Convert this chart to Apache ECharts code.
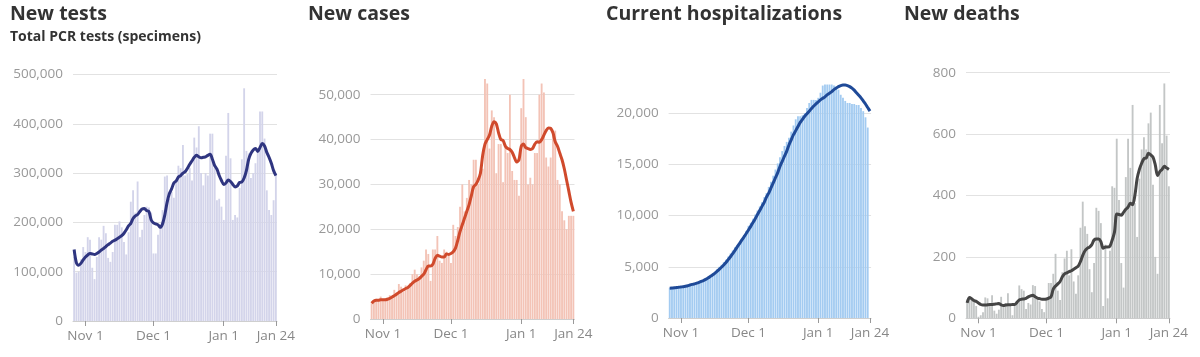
<!DOCTYPE html>
<html>
<head>
<meta charset="utf-8">
<script src="https://cdn.jsdelivr.net/npm/echarts@6/dist/echarts.min.js"></script>
<style>
html,body{margin:0;padding:0;background:#fff;}
#chart{width:1200px;height:357px;}
</style>
</head>
<body>
<div id="chart"></div>
<script>
// ---- categories: daily dates Oct 27 .. Jan 24 ----
const months = ['Oct','Nov','Dec','Jan'];
const monthDays = [[27,31],[1,30],[1,31],[1,24]];
const dates = [];
monthDays.forEach(function(r, mi){ for (let d = r[0]; d <= r[1]; d++) dates.push(months[mi] + ' ' + d); });
const tickLabels = ['Nov 1','Dec 1','Jan 1','Jan 24'];

// ---- New tests ----
const testsDaily = [130000,98000,100000,125000,150000,
140000,170000,165000,108000,85000,130000,170000,165000,193000,178000,128000,120000,140000,195000,195000,202000,190000,160000,135000,180000,242000,265000,220000,283000,170000,185000,215000,232000,230000,220000,
137000,137000,175000,190000,225000,293000,295000,248000,262000,250000,280000,315000,310000,357000,295000,298000,310000,285000,372000,352000,395000,300000,275000,300000,295000,380000,380000,310000,245000,248000,232000,
205000,335000,422000,330000,205000,215000,210000,270000,328000,472000,345000,340000,290000,300000,320000,343000,425000,425000,370000,265000,225000,215000,245000,300000];
const testsAvg = [145000,118000,113000,117000,124000,
130000,134000,137000,136000,135000,137000,140000,144000,147000,151000,155000,158000,162000,164000,167000,170000,173000,178000,185000,193000,198000,208000,213000,216000,222000,227000,228000,224000,222000,205000,
199000,197000,195000,190000,197000,215000,240000,258000,268000,280000,284000,292000,295000,300000,303000,310000,318000,325000,332000,336000,333000,331000,332000,333000,336000,338000,328000,315000,308000,295000,285000,
277000,280000,286000,283000,277000,272000,274000,281000,282000,290000,305000,328000,340000,347000,350000,344000,352000,360000,355000,342000,332000,320000,305000,295000];

// ---- New cases ----
const casesDaily = [3500,4200,4500,4300,5000,
4400,4500,4800,5300,5000,6500,6000,7800,7200,6000,7500,7000,8000,10000,11000,10000,9500,11500,13000,15500,14500,8500,15500,15500,18500,13000,12500,15500,15000,14500,
12500,21000,18500,20500,25000,30000,24000,27000,31000,30000,35500,35500,30000,33000,33500,53500,52500,38000,46500,45000,32500,39000,39000,30500,39000,37000,50000,33000,31000,31000,27500,
47000,53500,45000,30000,31500,30000,37000,37000,50000,52500,50500,36000,34000,36000,42000,42000,31000,30000,24000,22000,20000,23000,23000,23000];
const casesAvg = [3500,4000,4200,4200,4300,
4300,4300,4400,4600,4900,5200,5500,5900,6200,6500,6800,7000,7500,8000,8400,8700,9000,9500,10000,11000,11800,11800,12200,13500,14200,14000,13800,13800,14500,14400,
14600,15000,15800,17500,19500,21000,22500,24000,25500,27500,29500,30000,31000,32500,36500,39000,40000,41000,43000,44000,43500,41500,40000,39800,38500,38000,37800,37200,36000,35000,35500,
38500,39000,38200,38000,37800,38000,39000,39500,39400,40000,41000,42000,42600,42500,41500,39500,38500,37000,35500,33500,31000,28500,26000,24000];

// ---- Current hospitalizations ----
const hospDaily = [2950,2970,3000,3000,3020,
3050,3100,3120,3200,3250,3300,3350,3450,3500,3600,3700,3800,3950,4100,4300,4500,4750,5000,5200,5450,5700,6000,6300,6600,6900,7100,7400,7700,8100,8500,
9000,9300,9700,10100,10500,10900,11300,11800,12200,12800,13300,13900,14500,15100,15700,16300,16800,17200,17600,18200,18800,19400,19700,19700,19800,20000,20500,21000,21300,21300,21300,
21500,22000,22700,22800,22800,22800,22800,22700,22600,22300,21800,21500,21200,21000,21000,20900,20900,20800,20800,20500,20200,19600,18600];
const hospAvg = [2900,2920,2950,2970,3000,
3030,3060,3100,3150,3220,3280,3330,3400,3480,3570,3660,3770,3900,4050,4200,4360,4550,4750,4960,5180,5420,5700,5980,6280,6600,6950,7270,7600,7920,8250,
8600,8950,9320,9700,10100,10500,10900,11300,11800,12200,12700,13200,13700,14200,14800,15300,15800,16300,16900,17400,17900,18300,18700,19100,19400,19700,19950,20200,20450,20700,20900,
21100,21300,21450,21600,21800,21950,22100,22300,22450,22600,22700,22750,22750,22700,22600,22450,22250,22000,21750,21500,21200,20900,20550,20200];

// ---- New deaths ----
const deathsDaily = [55,70,60,55,40,
5,10,20,68,65,45,75,25,15,28,70,40,50,82,40,10,40,55,107,95,90,30,50,45,108,105,68,55,30,20,
65,115,115,145,210,90,60,150,195,220,140,225,120,80,140,295,380,300,275,160,85,180,360,350,310,40,240,65,220,430,425,
585,385,180,100,460,585,490,695,375,265,455,550,590,550,635,670,435,200,145,695,570,765,595,430];
const deathsAvg = [50,68,64,58,55,
50,45,43,43,44,45,45,46,47,48,44,42,43,44,44,45,45,52,60,62,63,65,70,73,75,70,66,64,62,62,
63,66,70,95,105,112,120,135,145,148,152,155,160,165,170,185,205,220,228,232,240,255,258,258,250,228,232,232,235,255,280,
340,338,336,345,355,362,375,370,400,455,485,505,520,522,538,532,525,500,465,478,485,495,490,485];

const panels = [
  {title:'New tests', sub:'Total PCR tests (specimens)', daily:testsDaily, avg:testsAvg, bar:'#d3d4ea', line:'#2f3580',
   left:73, width:204, top:74.5, bottom:321, max:500000, interval:100000, hideMax:false},
  {title:'New cases', sub:'', daily:casesDaily, avg:casesAvg, bar:'#f3c3b6', line:'#d04a2c',
   left:370.5, width:204, top:72.3, bottom:319, max:55000, interval:10000, hideMax:true},
  {title:'Current hospitalizations', sub:'', daily:hospDaily, avg:hospAvg, bar:'#a3cbf1', line:'#1f4a98',
   left:668.6, width:202.5, top:62, bottom:318, max:25000, interval:5000, hideMax:true},
  {title:'New deaths', sub:'', daily:deathsDaily, avg:deathsAvg, bar:'#c3c6c6', line:'#454545',
   left:966, width:204, top:72.7, bottom:318.3, max:800, interval:200, hideMax:false}
];
const titleLefts = [10, 308, 606, 904];

function fmt(v){ return String(v).replace(/\B(?=(\d{3})+(?!\d))/g, ','); }
function isTick(i, v){ return tickLabels.indexOf(v) >= 0; }

const FONT = '"Open Sans", "Noto Sans", sans-serif';
const option = {animation:false, title:[], grid:[], xAxis:[], yAxis:[], series:[]};
panels.forEach(function(p, k){
  option.title.push({text:p.title, left:titleLefts[k], top:4, padding:0,
    textStyle:{fontFamily:FONT, fontWeight:'bold', fontSize:19.5, color:'#333'}});
  if (p.sub) option.title.push({text:p.sub, left:titleLefts[k], top:30, padding:0,
    textStyle:{fontFamily:FONT, fontWeight:'bold', fontSize:14, color:'#333'}});
  option.grid.push({left:p.left, width:p.width, top:p.top, height:p.bottom - p.top, containLabel:false});
  option.xAxis.push({type:'category', gridIndex:k, data:dates, boundaryGap:true,
    axisLine:{show:true, lineStyle:{color:'#cfcfcf', width:1}},
    axisTick:{show:true, interval:isTick, alignWithLabel:true, length:5, lineStyle:{color:'#999'}},
    axisLabel:{interval:isTick, color:'#888', fontFamily:FONT, fontSize:13.5, margin:8},
    splitLine:{show:false}});
  option.yAxis.push({type:'value', gridIndex:k, min:0, max:p.max, interval:p.interval,
    axisLine:{show:false}, axisTick:{show:false},
    axisLabel:{color:'#999', fontFamily:FONT, fontSize:13.5, margin:10, formatter:fmt, showMaxLabel:!p.hideMax},
    splitLine:{show:true, showMaxLine:!p.hideMax, lineStyle:{color:'#e2e2e2', width:1}}});
  option.series.push({type:'bar', xAxisIndex:k, yAxisIndex:k, data:p.daily, barCategoryGap:'18%',
    itemStyle:{color:p.bar}, silent:true});
  option.series.push({type:'line', xAxisIndex:k, yAxisIndex:k, data:p.avg, showSymbol:false, smooth:0.3,
    lineStyle:{color:p.line, width:3}, z:5, silent:true});
});

const chart = echarts.init(document.getElementById('chart'), null, {renderer:'canvas'});
chart.setOption(option);
</script>
</body>
</html>
